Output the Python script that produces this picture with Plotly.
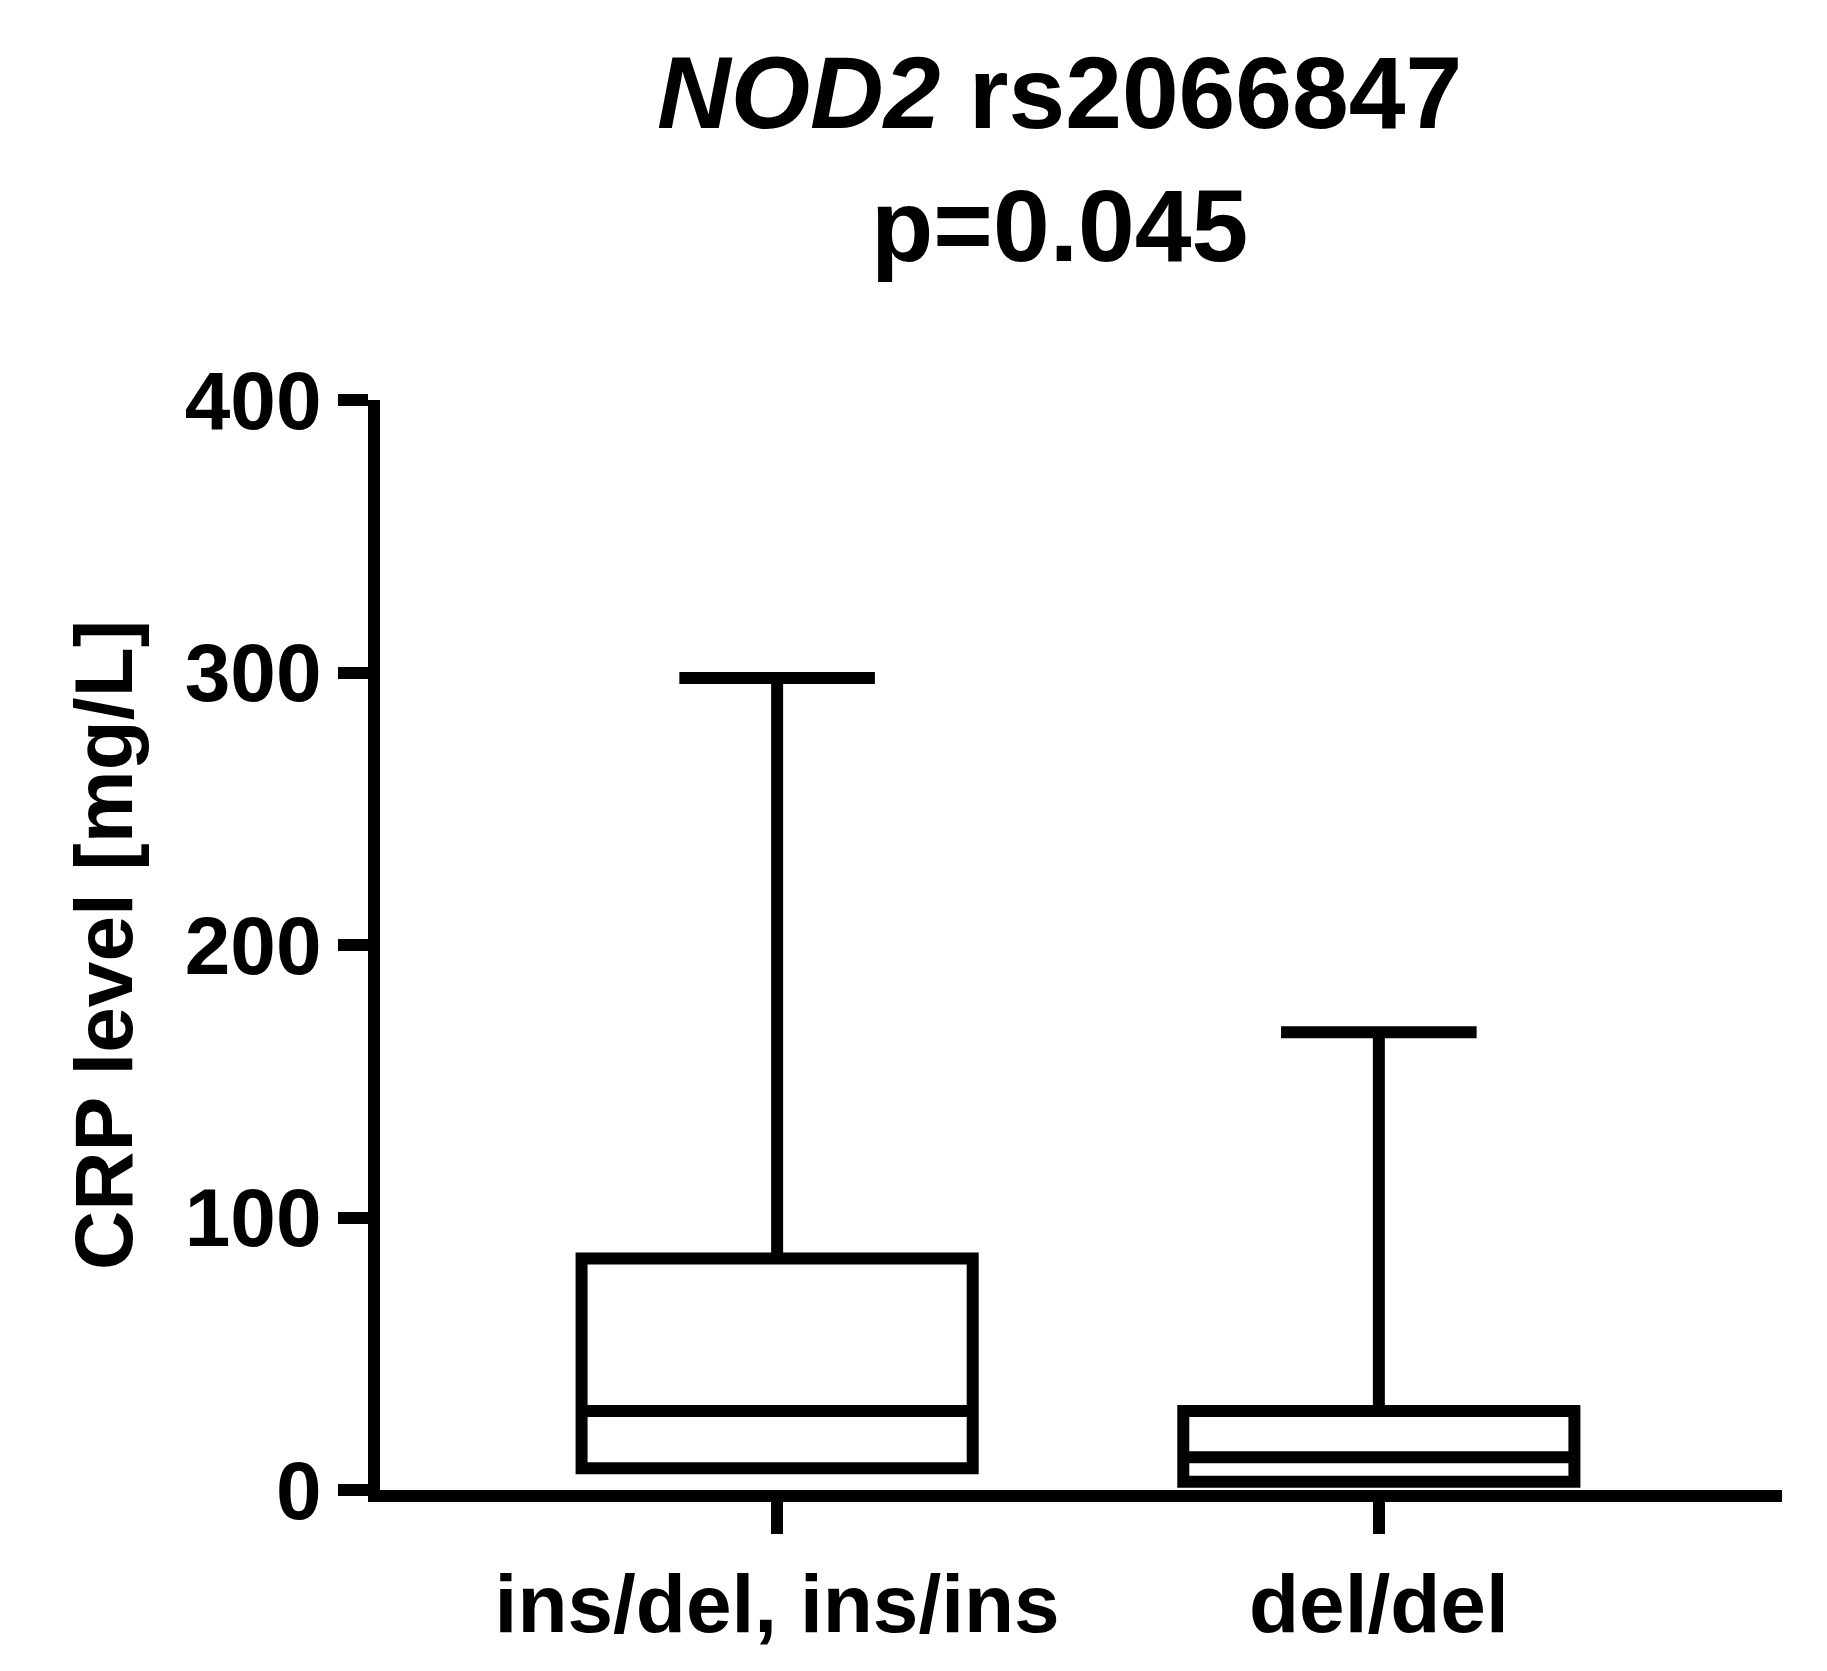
import plotly.graph_objects as go

categories = ["ins/del, ins/ins", "del/del"]
lower = [8, 3]
q1 = [8, 3]
median = [29, 12]
q3 = [85, 29]
upper = [298, 168]

F = "Liberation Sans, Arial, sans-serif"
fig = go.Figure()
fig.add_trace(go.Box(x=[0, 1], q1=q1, median=median, q3=q3, lowerfence=lower, upperfence=upper,
                     fillcolor="white", line=dict(color="black", width=12), width=0.65,
                     whiskerwidth=0.5, boxpoints=False, showlegend=False, hoverinfo="skip"))
fig.update_layout(
    width=1827, height=1671, plot_bgcolor="white", paper_bgcolor="white",
    margin=dict(l=372, r=53, t=392, b=189),
    font=dict(family=F, size=82, color="black"),
    xaxis=dict(range=[-0.66, 1.67], tickvals=[0, 1], ticktext=categories, showgrid=False,
               zeroline=False, showline=True, linecolor="black", linewidth=12,
               ticks="outside", ticklen=32, tickwidth=12, tickcolor="black",
               tickfont=dict(family=F, size=82, weight="bold")),
    yaxis=dict(range=[0, 400], tickvals=[0, 100, 200, 300, 400], showgrid=False, zeroline=False,
               showline=True, linecolor="black", linewidth=12, ticks="outside", ticklen=30,
               tickwidth=12, tickcolor="black", tickfont=dict(family=F, size=82, weight="bold")),
    yaxis_title=dict(text="<b>CRP level [mg/L]</b>", font=dict(family=F, size=82), standoff=30),
)
fig.add_annotation(text="<b><i>NOD2</i> rs2066847</b><br><b>p=0.045</b>", xref="paper", yref="paper",
                   x=0.485, y=1.0, yshift=115, yanchor="bottom", showarrow=False,
                   font=dict(family=F, size=102), align="center")
fig.write_html("out.html")
